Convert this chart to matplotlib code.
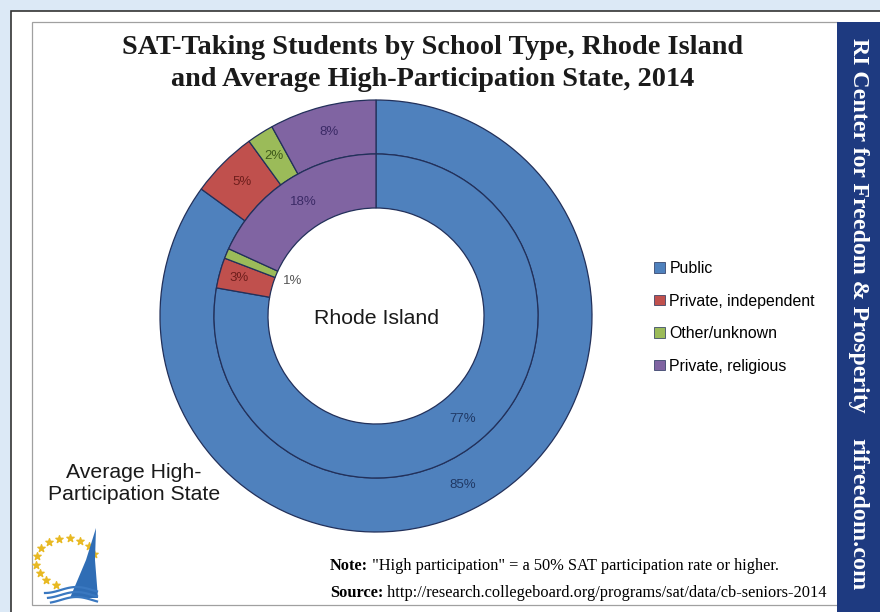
import numpy as np
import matplotlib.pyplot as plt
from matplotlib.patches import Rectangle, Polygon, Patch

plt.rcParams['font.family'] = ['Liberation Sans', 'DejaVu Sans']

# data
categories = ['Public', 'Private, independent', 'Other/unknown', 'Private, religious']
avgState = [85, 5, 2, 8]       # outer ring: average high-participation state
rhodeIsland = [77, 3, 1, 18]   # inner ring: Rhode Island
colors = ['#4F81BD', '#C0504D', '#9BBB59', '#8064A2']
labelColors = ['#1F3864', '#6E1E1C', '#3E5A1A', '#3B2A66']

fig = plt.figure(figsize=(8.8, 6.12), dpi=100)
fig.patch.set_facecolor('#DCE9F6')

# background axes in pixel coordinates
bg = fig.add_axes([0, 0, 1, 1])
bg.set_xlim(0, 880)
bg.set_ylim(612, 0)
bg.axis('off')
bg.add_patch(Rectangle((11, 11), 880, 620, facecolor='white', edgecolor='#333333', lw=1.2))
bg.add_patch(Rectangle((32, 22), 806, 583, facecolor='white', edgecolor='#A0A0A0', lw=0.9))
bg.add_patch(Rectangle((837, 22), 43, 590, facecolor='#1E3A80', edgecolor='none'))

serif = ['Liberation Serif', 'DejaVu Serif']
bg.text(858, 38, 'RI Center for Freedom & Prosperity', rotation=-90, color='white',
        family=serif, fontweight='bold', fontsize=17.2, ha='center', va='top')
bg.text(858, 438, 'rifreedom.com', rotation=-90, color='white',
        family=serif, fontweight='bold', fontsize=17.5, ha='center', va='top')

bg.text(433, 48, 'SAT-Taking Students by School Type, Rhode Island', family=serif,
        fontweight='bold', fontsize=20.3, ha='center', va='center', color='#1a1a1a')
bg.text(433, 80, 'and Average High-Participation State, 2014', family=serif,
        fontweight='bold', fontsize=20.3, ha='center', va='center', color='#1a1a1a')

# note and source
t1 = bg.text(330, 566, 'Note:', family=serif, fontweight='bold', fontsize=11.8, va='center')
bg.annotate(' "High participation" = a 50% SAT participation rate or higher.', xy=(1, 0),
            xycoords=t1, va='bottom', family=serif, fontsize=11.8)
t2 = bg.text(330, 593, 'Source:', family=serif, fontweight='bold', fontsize=11.8, va='center')
bg.annotate(' http://research.collegeboard.org/programs/sat/data/cb-seniors-2014', xy=(1, 0),
            xycoords=t2, va='bottom', family=serif, fontsize=11.8)

# simple logo: ring of stars, sail and waves
ang = np.radians(np.linspace(20, 250, 12))
bg.scatter(66 + 30 * np.cos(ang), 562 - 24 * np.sin(ang), marker='*', s=30,
           color='#E8B923', zorder=3)
bg.add_patch(Polygon([[96, 528], [86, 560], [70, 598], [98, 598], [95, 560]], closed=True,
                     facecolor='#2F6DB5', edgecolor='none', zorder=4))
for k in range(3):
    xs = np.linspace(45 + k * 3, 97, 30)
    bg.plot(xs, 590 + k * 5 + 3 * np.cos((xs - 45) / 10), color='#3A78C0', lw=1.6, zorder=4)

# nested donut
cx, cy, R = 376, 316, 216
ax = fig.add_axes([(cx - R) / 880, (612 - cy - R) / 612, 2 * R / 880, 2 * R / 612])
edge = dict(width=0.25, edgecolor='#22305A', linewidth=0.9)
ax.pie(avgState, radius=1.0, startangle=90, counterclock=False, colors=colors, wedgeprops=edge)
ax.pie(rhodeIsland, radius=0.75, startangle=90, counterclock=False, colors=colors, wedgeprops=edge)
ax.set_xlim(-1, 1)
ax.set_ylim(-1, 1)
ax.set_aspect('equal')
ax.axis('off')

def addLabels(values, radii):
    cum = np.cumsum(values) - np.array(values) / 2.0
    for i, v in enumerate(values):
        theta = np.radians(90 - 360.0 * cum[i] / sum(values))
        r = radii[i]
        col = labelColors[i] if r > 0.5 else '#555555'
        ax.text(r * np.cos(theta), r * np.sin(theta), '%d%%' % v, ha='center', va='center',
                fontsize=9.5, color=col)

addLabels(avgState, [0.88, 0.88, 0.88, 0.88])
addLabels(rhodeIsland, [0.625, 0.66, 0.42, 0.625])

bg.text(cx, 318, 'Rhode Island', ha='center', va='center', fontsize=15.3, color='#1a1a1a')
bg.text(134, 483, 'Average High-\nParticipation State', ha='center', va='center',
        fontsize=15.3, color='#1a1a1a', linespacing=1.2)

handles = [Patch(facecolor=c, edgecolor='#22305A', lw=0.5) for c in colors]
fig.legend(handles, categories, loc='upper left', bbox_to_anchor=(640 / 880, 1 - 247 / 612),
           frameon=False, fontsize=11.4, handlelength=0.65, handleheight=0.65,
           handletextpad=0.3, labelspacing=1.1)

fig.savefig('out.png', dpi=100)
